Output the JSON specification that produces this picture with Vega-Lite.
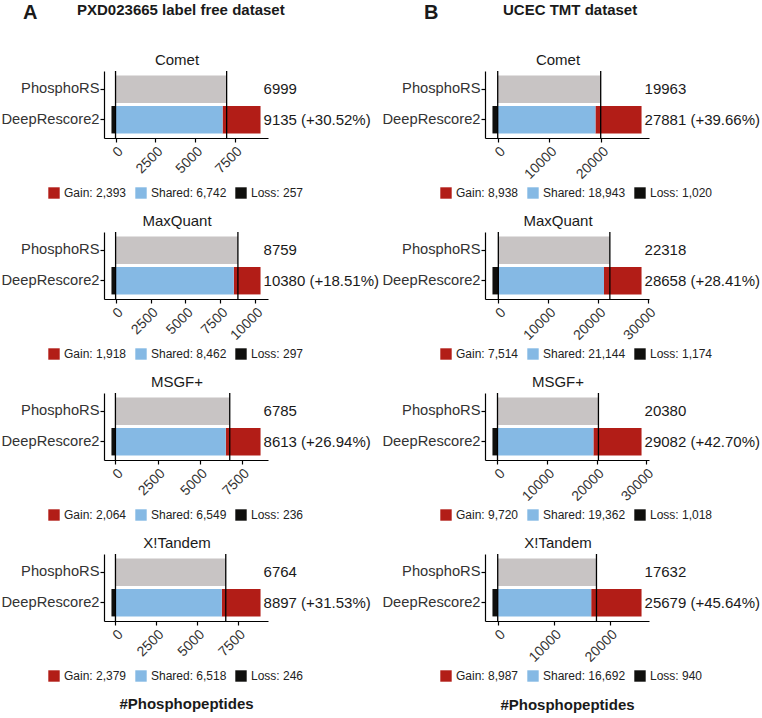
{
  "$schema": "https://vega.github.io/schema/vega-lite/v6.json",
  "background": "white",
  "padding": {"left": 1, "top": 3, "right": 0, "bottom": 0},
  "datasets": {
    "seg": [
      {"d": "A", "e": "Comet", "m": "PhosphoRS", "lab": "PhosphoRS", "v": 6999, "o": 0},
      {"d": "A", "e": "Comet", "m": "DeepRescore2", "lab": "Gain: 2,393", "v": 2393, "o": 1},
      {"d": "A", "e": "Comet", "m": "DeepRescore2", "lab": "Shared: 6,742", "v": 6742, "o": 2},
      {"d": "A", "e": "Comet", "m": "DeepRescore2", "lab": "Loss: 257", "v": -257, "o": 3},
      {"d": "A", "e": "MaxQuant", "m": "PhosphoRS", "lab": "PhosphoRS", "v": 8759, "o": 0},
      {"d": "A", "e": "MaxQuant", "m": "DeepRescore2", "lab": "Gain: 1,918", "v": 1918, "o": 1},
      {"d": "A", "e": "MaxQuant", "m": "DeepRescore2", "lab": "Shared: 8,462", "v": 8462, "o": 2},
      {"d": "A", "e": "MaxQuant", "m": "DeepRescore2", "lab": "Loss: 297", "v": -297, "o": 3},
      {"d": "A", "e": "MSGF+", "m": "PhosphoRS", "lab": "PhosphoRS", "v": 6785, "o": 0},
      {"d": "A", "e": "MSGF+", "m": "DeepRescore2", "lab": "Gain: 2,064", "v": 2064, "o": 1},
      {"d": "A", "e": "MSGF+", "m": "DeepRescore2", "lab": "Shared: 6,549", "v": 6549, "o": 2},
      {"d": "A", "e": "MSGF+", "m": "DeepRescore2", "lab": "Loss: 236", "v": -236, "o": 3},
      {"d": "A", "e": "X!Tandem", "m": "PhosphoRS", "lab": "PhosphoRS", "v": 6764, "o": 0},
      {"d": "A", "e": "X!Tandem", "m": "DeepRescore2", "lab": "Gain: 2,379", "v": 2379, "o": 1},
      {"d": "A", "e": "X!Tandem", "m": "DeepRescore2", "lab": "Shared: 6,518", "v": 6518, "o": 2},
      {"d": "A", "e": "X!Tandem", "m": "DeepRescore2", "lab": "Loss: 246", "v": -246, "o": 3},
      {"d": "B", "e": "Comet", "m": "PhosphoRS", "lab": "PhosphoRS", "v": 19963, "o": 0},
      {"d": "B", "e": "Comet", "m": "DeepRescore2", "lab": "Gain: 8,938", "v": 8938, "o": 1},
      {"d": "B", "e": "Comet", "m": "DeepRescore2", "lab": "Shared: 18,943", "v": 18943, "o": 2},
      {"d": "B", "e": "Comet", "m": "DeepRescore2", "lab": "Loss: 1,020", "v": -1020, "o": 3},
      {"d": "B", "e": "MaxQuant", "m": "PhosphoRS", "lab": "PhosphoRS", "v": 22318, "o": 0},
      {"d": "B", "e": "MaxQuant", "m": "DeepRescore2", "lab": "Gain: 7,514", "v": 7514, "o": 1},
      {"d": "B", "e": "MaxQuant", "m": "DeepRescore2", "lab": "Shared: 21,144", "v": 21144, "o": 2},
      {"d": "B", "e": "MaxQuant", "m": "DeepRescore2", "lab": "Loss: 1,174", "v": -1174, "o": 3},
      {"d": "B", "e": "MSGF+", "m": "PhosphoRS", "lab": "PhosphoRS", "v": 20380, "o": 0},
      {"d": "B", "e": "MSGF+", "m": "DeepRescore2", "lab": "Gain: 9,720", "v": 9720, "o": 1},
      {"d": "B", "e": "MSGF+", "m": "DeepRescore2", "lab": "Shared: 19,362", "v": 19362, "o": 2},
      {"d": "B", "e": "MSGF+", "m": "DeepRescore2", "lab": "Loss: 1,018", "v": -1018, "o": 3},
      {"d": "B", "e": "X!Tandem", "m": "PhosphoRS", "lab": "PhosphoRS", "v": 17632, "o": 0},
      {"d": "B", "e": "X!Tandem", "m": "DeepRescore2", "lab": "Gain: 8,987", "v": 8987, "o": 1},
      {"d": "B", "e": "X!Tandem", "m": "DeepRescore2", "lab": "Shared: 16,692", "v": 16692, "o": 2},
      {"d": "B", "e": "X!Tandem", "m": "DeepRescore2", "lab": "Loss: 940", "v": -940, "o": 3}
    ],
    "tot": [
      {"d": "A", "e": "Comet", "m": "PhosphoRS", "total": 6999, "txt": "6999"},
      {"d": "A", "e": "Comet", "m": "DeepRescore2", "total": 9135, "txt": "9135 (+30.52%)"},
      {"d": "A", "e": "MaxQuant", "m": "PhosphoRS", "total": 8759, "txt": "8759"},
      {"d": "A", "e": "MaxQuant", "m": "DeepRescore2", "total": 10380, "txt": "10380 (+18.51%)"},
      {"d": "A", "e": "MSGF+", "m": "PhosphoRS", "total": 6785, "txt": "6785"},
      {"d": "A", "e": "MSGF+", "m": "DeepRescore2", "total": 8613, "txt": "8613 (+26.94%)"},
      {"d": "A", "e": "X!Tandem", "m": "PhosphoRS", "total": 6764, "txt": "6764"},
      {"d": "A", "e": "X!Tandem", "m": "DeepRescore2", "total": 8897, "txt": "8897 (+31.53%)"},
      {"d": "B", "e": "Comet", "m": "PhosphoRS", "total": 19963, "txt": "19963"},
      {"d": "B", "e": "Comet", "m": "DeepRescore2", "total": 27881, "txt": "27881 (+39.66%)"},
      {"d": "B", "e": "MaxQuant", "m": "PhosphoRS", "total": 22318, "txt": "22318"},
      {"d": "B", "e": "MaxQuant", "m": "DeepRescore2", "total": 28658, "txt": "28658 (+28.41%)"},
      {"d": "B", "e": "MSGF+", "m": "PhosphoRS", "total": 20380, "txt": "20380"},
      {"d": "B", "e": "MSGF+", "m": "DeepRescore2", "total": 29082, "txt": "29082 (+42.70%)"},
      {"d": "B", "e": "X!Tandem", "m": "PhosphoRS", "total": 17632, "txt": "17632"},
      {"d": "B", "e": "X!Tandem", "m": "DeepRescore2", "total": 25679, "txt": "25679 (+45.64%)"}
    ]
  },
  "config": {
    "font": "Liberation Sans",
    "view": {"stroke": null},
    "range": {"category": ["#b21d17", "#85b9e4", "#0f0f0d"]},
    "title": {"fontSize": 15, "fontWeight": "normal", "color": "#1a1a1a", "offset": 2, "dx": -9},
    "axis": {"grid": false, "domainColor": "black", "domainWidth": 1.2, "tickColor": "black", "tickWidth": 1.2, "tickSize": 4, "labelColor": "#333333", "titleColor": "#1a1a1a"},
    "axisX": {"labelAngle": -45, "labelAlign": "right", "labelBaseline": "top", "labelFontSize": 14, "labelPadding": 2, "labelOverlap": false, "labelFlush": false, "labelBound": false, "format": "d", "titleFontSize": 15, "titleFontWeight": "bold"},
    "axisY": {"labelFontSize": 14.7, "labelPadding": 1},
    "legend": {"title": null, "direction": "horizontal", "orient": "none", "labelFontSize": 12, "labelColor": "#222222", "symbolType": "square", "symbolSize": 130, "symbolStrokeWidth": 0, "labelOffset": 4, "columnPadding": 8}
  },
  "resolve": {"scale": {"color": "independent", "x": "independent", "y": "independent"}, "legend": {"color": "independent"}},
  "spacing": 2,
  "hconcat": [
    {
      "title": {"text": "A", "anchor": "start", "fontSize": 20, "fontWeight": "bold", "offset": -20, "dx": 22},
      "resolve": {"scale": {"color": "independent", "x": "independent", "y": "independent"}, "legend": {"color": "independent"}},
      "vconcat": [
        {
          "title": {"text": "PXD023665 label free dataset", "anchor": "start", "fontSize": 15, "fontWeight": "bold", "offset": 35, "dx": 76},
          "resolve": {"scale": {"color": "independent", "x": "independent", "y": "independent"}, "legend": {"color": "independent"}},
          "spacing": 15,
          "vconcat": [
            {
              "width": 164, "height": 67, "title": {"text": "Comet"},
              "layer": [
                {"data": {"name": "seg"}, "transform": [{"filter": "datum.d=='A' && datum.e=='Comet' && datum.m=='PhosphoRS'"}], "mark": {"type": "bar", "color": "#c8c4c4"},
                 "encoding": {"x": {"field": "v", "type": "quantitative", "title": null, "scale": {"domain": [-727, 9605], "nice": false, "zero": false}, "axis": {"values": [0, 2500, 5000, 7500]}},
                              "y": {"field": "m", "type": "nominal", "title": null, "sort": ["PhosphoRS", "DeepRescore2"], "scale": {"paddingInner": 0.1, "paddingOuter": 0.15}}}},
                {"data": {"name": "seg"}, "transform": [{"filter": "datum.d=='A' && datum.e=='Comet' && datum.m=='DeepRescore2'"}], "mark": "bar",
                 "encoding": {"x": {"field": "v", "type": "quantitative", "title": null, "stack": "zero"},
                              "y": {"field": "m", "type": "nominal", "title": null, "sort": ["PhosphoRS", "DeepRescore2"]},
                              "color": {"field": "lab", "type": "nominal", "sort": {"field": "o", "op": "min"}, "legend": {"legendX": -56, "legendY": 116}},
                              "order": {"field": "o", "sort": "descending"}}},
                {"data": {"name": "tot"}, "transform": [{"filter": "datum.d=='A' && datum.e=='Comet' && datum.m=='PhosphoRS'"}], "mark": {"type": "rule", "color": "black", "strokeWidth": 1.3}, "encoding": {"x": {"datum": 0}}},
                {"data": {"name": "tot"}, "transform": [{"filter": "datum.d=='A' && datum.e=='Comet' && datum.m=='PhosphoRS'"}], "mark": {"type": "rule", "color": "black", "strokeWidth": 1.3}, "encoding": {"x": {"field": "total", "type": "quantitative", "title": null}}},
                {"data": {"name": "tot"}, "transform": [{"filter": "datum.d=='A' && datum.e=='Comet'"}, {"joinaggregate": [{"op": "max", "field": "total", "as": "mx"}]}], "mark": {"type": "text", "align": "left", "dx": 3, "fontSize": 15, "color": "#1a1a1a"},
                 "encoding": {"x": {"field": "mx", "type": "quantitative", "title": null}, "y": {"field": "m", "type": "nominal", "title": null, "sort": ["PhosphoRS", "DeepRescore2"]}, "text": {"field": "txt"}}}
              ]
            },
            {
              "width": 164, "height": 67, "title": {"text": "MaxQuant"},
              "layer": [
                {"data": {"name": "seg"}, "transform": [{"filter": "datum.d=='A' && datum.e=='MaxQuant' && datum.m=='PhosphoRS'"}], "mark": {"type": "bar", "color": "#c8c4c4"},
                 "encoding": {"x": {"field": "v", "type": "quantitative", "title": null, "scale": {"domain": [-831, 10914], "nice": false, "zero": false}, "axis": {"values": [0, 2500, 5000, 7500, 10000]}},
                              "y": {"field": "m", "type": "nominal", "title": null, "sort": ["PhosphoRS", "DeepRescore2"], "scale": {"paddingInner": 0.1, "paddingOuter": 0.15}}}},
                {"data": {"name": "seg"}, "transform": [{"filter": "datum.d=='A' && datum.e=='MaxQuant' && datum.m=='DeepRescore2'"}], "mark": "bar",
                 "encoding": {"x": {"field": "v", "type": "quantitative", "title": null, "stack": "zero"},
                              "y": {"field": "m", "type": "nominal", "title": null, "sort": ["PhosphoRS", "DeepRescore2"]},
                              "color": {"field": "lab", "type": "nominal", "sort": {"field": "o", "op": "min"}, "legend": {"legendX": -56, "legendY": 116}},
                              "order": {"field": "o", "sort": "descending"}}},
                {"data": {"name": "tot"}, "transform": [{"filter": "datum.d=='A' && datum.e=='MaxQuant' && datum.m=='PhosphoRS'"}], "mark": {"type": "rule", "color": "black", "strokeWidth": 1.3}, "encoding": {"x": {"datum": 0}}},
                {"data": {"name": "tot"}, "transform": [{"filter": "datum.d=='A' && datum.e=='MaxQuant' && datum.m=='PhosphoRS'"}], "mark": {"type": "rule", "color": "black", "strokeWidth": 1.3}, "encoding": {"x": {"field": "total", "type": "quantitative", "title": null}}},
                {"data": {"name": "tot"}, "transform": [{"filter": "datum.d=='A' && datum.e=='MaxQuant'"}, {"joinaggregate": [{"op": "max", "field": "total", "as": "mx"}]}], "mark": {"type": "text", "align": "left", "dx": 3, "fontSize": 15, "color": "#1a1a1a"},
                 "encoding": {"x": {"field": "mx", "type": "quantitative", "title": null}, "y": {"field": "m", "type": "nominal", "title": null, "sort": ["PhosphoRS", "DeepRescore2"]}, "text": {"field": "txt"}}}
              ]
            },
            {
              "width": 164, "height": 67, "title": {"text": "MSGF+"},
              "layer": [
                {"data": {"name": "seg"}, "transform": [{"filter": "datum.d=='A' && datum.e=='MSGF+' && datum.m=='PhosphoRS'"}], "mark": {"type": "bar", "color": "#c8c4c4"},
                 "encoding": {"x": {"field": "v", "type": "quantitative", "title": null, "scale": {"domain": [-678, 9055], "nice": false, "zero": false}, "axis": {"values": [0, 2500, 5000, 7500]}},
                              "y": {"field": "m", "type": "nominal", "title": null, "sort": ["PhosphoRS", "DeepRescore2"], "scale": {"paddingInner": 0.1, "paddingOuter": 0.15}}}},
                {"data": {"name": "seg"}, "transform": [{"filter": "datum.d=='A' && datum.e=='MSGF+' && datum.m=='DeepRescore2'"}], "mark": "bar",
                 "encoding": {"x": {"field": "v", "type": "quantitative", "title": null, "stack": "zero"},
                              "y": {"field": "m", "type": "nominal", "title": null, "sort": ["PhosphoRS", "DeepRescore2"]},
                              "color": {"field": "lab", "type": "nominal", "sort": {"field": "o", "op": "min"}, "legend": {"legendX": -56, "legendY": 116}},
                              "order": {"field": "o", "sort": "descending"}}},
                {"data": {"name": "tot"}, "transform": [{"filter": "datum.d=='A' && datum.e=='MSGF+' && datum.m=='PhosphoRS'"}], "mark": {"type": "rule", "color": "black", "strokeWidth": 1.3}, "encoding": {"x": {"datum": 0}}},
                {"data": {"name": "tot"}, "transform": [{"filter": "datum.d=='A' && datum.e=='MSGF+' && datum.m=='PhosphoRS'"}], "mark": {"type": "rule", "color": "black", "strokeWidth": 1.3}, "encoding": {"x": {"field": "total", "type": "quantitative", "title": null}}},
                {"data": {"name": "tot"}, "transform": [{"filter": "datum.d=='A' && datum.e=='MSGF+'"}, {"joinaggregate": [{"op": "max", "field": "total", "as": "mx"}]}], "mark": {"type": "text", "align": "left", "dx": 3, "fontSize": 15, "color": "#1a1a1a"},
                 "encoding": {"x": {"field": "mx", "type": "quantitative", "title": null}, "y": {"field": "m", "type": "nominal", "title": null, "sort": ["PhosphoRS", "DeepRescore2"]}, "text": {"field": "txt"}}}
              ]
            },
            {
              "width": 164, "height": 67, "title": {"text": "X!Tandem"},
              "layer": [
                {"data": {"name": "seg"}, "transform": [{"filter": "datum.d=='A' && datum.e=='X!Tandem' && datum.m=='PhosphoRS'"}], "mark": {"type": "bar", "color": "#c8c4c4"},
                 "encoding": {"x": {"field": "v", "type": "quantitative", "scale": {"domain": [-703, 9354], "nice": false, "zero": false}, "axis": {"values": [0, 2500, 5000, 7500], "title": "#Phosphopeptides", "titlePadding": 38}},
                              "y": {"field": "m", "type": "nominal", "title": null, "sort": ["PhosphoRS", "DeepRescore2"], "scale": {"paddingInner": 0.1, "paddingOuter": 0.15}}}},
                {"data": {"name": "seg"}, "transform": [{"filter": "datum.d=='A' && datum.e=='X!Tandem' && datum.m=='DeepRescore2'"}], "mark": "bar",
                 "encoding": {"x": {"field": "v", "type": "quantitative", "stack": "zero"},
                              "y": {"field": "m", "type": "nominal", "title": null, "sort": ["PhosphoRS", "DeepRescore2"]},
                              "color": {"field": "lab", "type": "nominal", "sort": {"field": "o", "op": "min"}, "legend": {"legendX": -56, "legendY": 116}},
                              "order": {"field": "o", "sort": "descending"}}},
                {"data": {"name": "tot"}, "transform": [{"filter": "datum.d=='A' && datum.e=='X!Tandem' && datum.m=='PhosphoRS'"}], "mark": {"type": "rule", "color": "black", "strokeWidth": 1.3}, "encoding": {"x": {"datum": 0}}},
                {"data": {"name": "tot"}, "transform": [{"filter": "datum.d=='A' && datum.e=='X!Tandem' && datum.m=='PhosphoRS'"}], "mark": {"type": "rule", "color": "black", "strokeWidth": 1.3}, "encoding": {"x": {"field": "total", "type": "quantitative"}}},
                {"data": {"name": "tot"}, "transform": [{"filter": "datum.d=='A' && datum.e=='X!Tandem'"}, {"joinaggregate": [{"op": "max", "field": "total", "as": "mx"}]}], "mark": {"type": "text", "align": "left", "dx": 3, "fontSize": 15, "color": "#1a1a1a"},
                 "encoding": {"x": {"field": "mx", "type": "quantitative"}, "y": {"field": "m", "type": "nominal", "title": null, "sort": ["PhosphoRS", "DeepRescore2"]}, "text": {"field": "txt"}}}
              ]
            }
          ]
        }
      ]
    },
    {
      "title": {"text": "B", "anchor": "start", "fontSize": 20, "fontWeight": "bold", "offset": -20, "dx": 42},
      "resolve": {"scale": {"color": "independent", "x": "independent", "y": "independent"}, "legend": {"color": "independent"}},
      "vconcat": [
        {
          "title": {"text": "UCEC TMT dataset", "anchor": "start", "fontSize": 15, "fontWeight": "bold", "offset": 35, "dx": 121},
          "resolve": {"scale": {"color": "independent", "x": "independent", "y": "independent"}, "legend": {"color": "independent"}},
          "spacing": 15,
          "vconcat": [
            {
              "width": 164, "height": 67, "title": {"text": "Comet"},
              "layer": [
                {"data": {"name": "seg"}, "transform": [{"filter": "datum.d=='B' && datum.e=='Comet' && datum.m=='PhosphoRS'"}], "mark": {"type": "bar", "color": "#c8c4c4"},
                 "encoding": {"x": {"field": "v", "type": "quantitative", "title": null, "scale": {"domain": [-2465, 29326], "nice": false, "zero": false}, "axis": {"values": [0, 10000, 20000]}},
                              "y": {"field": "m", "type": "nominal", "title": null, "sort": ["PhosphoRS", "DeepRescore2"], "scale": {"paddingInner": 0.1, "paddingOuter": 0.15}}}},
                {"data": {"name": "seg"}, "transform": [{"filter": "datum.d=='B' && datum.e=='Comet' && datum.m=='DeepRescore2'"}], "mark": "bar",
                 "encoding": {"x": {"field": "v", "type": "quantitative", "title": null, "stack": "zero"},
                              "y": {"field": "m", "type": "nominal", "title": null, "sort": ["PhosphoRS", "DeepRescore2"]},
                              "color": {"field": "lab", "type": "nominal", "sort": {"field": "o", "op": "min"}, "legend": {"legendX": -45, "legendY": 116}},
                              "order": {"field": "o", "sort": "descending"}}},
                {"data": {"name": "tot"}, "transform": [{"filter": "datum.d=='B' && datum.e=='Comet' && datum.m=='PhosphoRS'"}], "mark": {"type": "rule", "color": "black", "strokeWidth": 1.3}, "encoding": {"x": {"datum": 0}}},
                {"data": {"name": "tot"}, "transform": [{"filter": "datum.d=='B' && datum.e=='Comet' && datum.m=='PhosphoRS'"}], "mark": {"type": "rule", "color": "black", "strokeWidth": 1.3}, "encoding": {"x": {"field": "total", "type": "quantitative", "title": null}}},
                {"data": {"name": "tot"}, "transform": [{"filter": "datum.d=='B' && datum.e=='Comet'"}, {"joinaggregate": [{"op": "max", "field": "total", "as": "mx"}]}], "mark": {"type": "text", "align": "left", "dx": 3, "fontSize": 15, "color": "#1a1a1a"},
                 "encoding": {"x": {"field": "mx", "type": "quantitative", "title": null}, "y": {"field": "m", "type": "nominal", "title": null, "sort": ["PhosphoRS", "DeepRescore2"]}, "text": {"field": "txt"}}}
              ]
            },
            {
              "width": 164, "height": 67, "title": {"text": "MaxQuant"},
              "layer": [
                {"data": {"name": "seg"}, "transform": [{"filter": "datum.d=='B' && datum.e=='MaxQuant' && datum.m=='PhosphoRS'"}], "mark": {"type": "bar", "color": "#c8c4c4"},
                 "encoding": {"x": {"field": "v", "type": "quantitative", "title": null, "scale": {"domain": [-2666, 30150], "nice": false, "zero": false}, "axis": {"values": [0, 10000, 20000, 30000]}},
                              "y": {"field": "m", "type": "nominal", "title": null, "sort": ["PhosphoRS", "DeepRescore2"], "scale": {"paddingInner": 0.1, "paddingOuter": 0.15}}}},
                {"data": {"name": "seg"}, "transform": [{"filter": "datum.d=='B' && datum.e=='MaxQuant' && datum.m=='DeepRescore2'"}], "mark": "bar",
                 "encoding": {"x": {"field": "v", "type": "quantitative", "title": null, "stack": "zero"},
                              "y": {"field": "m", "type": "nominal", "title": null, "sort": ["PhosphoRS", "DeepRescore2"]},
                              "color": {"field": "lab", "type": "nominal", "sort": {"field": "o", "op": "min"}, "legend": {"legendX": -45, "legendY": 116}},
                              "order": {"field": "o", "sort": "descending"}}},
                {"data": {"name": "tot"}, "transform": [{"filter": "datum.d=='B' && datum.e=='MaxQuant' && datum.m=='PhosphoRS'"}], "mark": {"type": "rule", "color": "black", "strokeWidth": 1.3}, "encoding": {"x": {"datum": 0}}},
                {"data": {"name": "tot"}, "transform": [{"filter": "datum.d=='B' && datum.e=='MaxQuant' && datum.m=='PhosphoRS'"}], "mark": {"type": "rule", "color": "black", "strokeWidth": 1.3}, "encoding": {"x": {"field": "total", "type": "quantitative", "title": null}}},
                {"data": {"name": "tot"}, "transform": [{"filter": "datum.d=='B' && datum.e=='MaxQuant'"}, {"joinaggregate": [{"op": "max", "field": "total", "as": "mx"}]}], "mark": {"type": "text", "align": "left", "dx": 3, "fontSize": 15, "color": "#1a1a1a"},
                 "encoding": {"x": {"field": "mx", "type": "quantitative", "title": null}, "y": {"field": "m", "type": "nominal", "title": null, "sort": ["PhosphoRS", "DeepRescore2"]}, "text": {"field": "txt"}}}
              ]
            },
            {
              "width": 164, "height": 67, "title": {"text": "MSGF+"},
              "layer": [
                {"data": {"name": "seg"}, "transform": [{"filter": "datum.d=='B' && datum.e=='MSGF+' && datum.m=='PhosphoRS'"}], "mark": {"type": "bar", "color": "#c8c4c4"},
                 "encoding": {"x": {"field": "v", "type": "quantitative", "title": null, "scale": {"domain": [-2523, 30587], "nice": false, "zero": false}, "axis": {"values": [0, 10000, 20000, 30000]}},
                              "y": {"field": "m", "type": "nominal", "title": null, "sort": ["PhosphoRS", "DeepRescore2"], "scale": {"paddingInner": 0.1, "paddingOuter": 0.15}}}},
                {"data": {"name": "seg"}, "transform": [{"filter": "datum.d=='B' && datum.e=='MSGF+' && datum.m=='DeepRescore2'"}], "mark": "bar",
                 "encoding": {"x": {"field": "v", "type": "quantitative", "title": null, "stack": "zero"},
                              "y": {"field": "m", "type": "nominal", "title": null, "sort": ["PhosphoRS", "DeepRescore2"]},
                              "color": {"field": "lab", "type": "nominal", "sort": {"field": "o", "op": "min"}, "legend": {"legendX": -45, "legendY": 116}},
                              "order": {"field": "o", "sort": "descending"}}},
                {"data": {"name": "tot"}, "transform": [{"filter": "datum.d=='B' && datum.e=='MSGF+' && datum.m=='PhosphoRS'"}], "mark": {"type": "rule", "color": "black", "strokeWidth": 1.3}, "encoding": {"x": {"datum": 0}}},
                {"data": {"name": "tot"}, "transform": [{"filter": "datum.d=='B' && datum.e=='MSGF+' && datum.m=='PhosphoRS'"}], "mark": {"type": "rule", "color": "black", "strokeWidth": 1.3}, "encoding": {"x": {"field": "total", "type": "quantitative", "title": null}}},
                {"data": {"name": "tot"}, "transform": [{"filter": "datum.d=='B' && datum.e=='MSGF+'"}, {"joinaggregate": [{"op": "max", "field": "total", "as": "mx"}]}], "mark": {"type": "text", "align": "left", "dx": 3, "fontSize": 15, "color": "#1a1a1a"},
                 "encoding": {"x": {"field": "mx", "type": "quantitative", "title": null}, "y": {"field": "m", "type": "nominal", "title": null, "sort": ["PhosphoRS", "DeepRescore2"]}, "text": {"field": "txt"}}}
              ]
            },
            {
              "width": 164, "height": 67, "title": {"text": "X!Tandem"},
              "layer": [
                {"data": {"name": "seg"}, "transform": [{"filter": "datum.d=='B' && datum.e=='X!Tandem' && datum.m=='PhosphoRS'"}], "mark": {"type": "bar", "color": "#c8c4c4"},
                 "encoding": {"x": {"field": "v", "type": "quantitative", "scale": {"domain": [-2271, 27010], "nice": false, "zero": false}, "axis": {"values": [0, 10000, 20000], "title": "#Phosphopeptides", "titlePadding": 33}},
                              "y": {"field": "m", "type": "nominal", "title": null, "sort": ["PhosphoRS", "DeepRescore2"], "scale": {"paddingInner": 0.1, "paddingOuter": 0.15}}}},
                {"data": {"name": "seg"}, "transform": [{"filter": "datum.d=='B' && datum.e=='X!Tandem' && datum.m=='DeepRescore2'"}], "mark": "bar",
                 "encoding": {"x": {"field": "v", "type": "quantitative", "stack": "zero"},
                              "y": {"field": "m", "type": "nominal", "title": null, "sort": ["PhosphoRS", "DeepRescore2"]},
                              "color": {"field": "lab", "type": "nominal", "sort": {"field": "o", "op": "min"}, "legend": {"legendX": -45, "legendY": 116}},
                              "order": {"field": "o", "sort": "descending"}}},
                {"data": {"name": "tot"}, "transform": [{"filter": "datum.d=='B' && datum.e=='X!Tandem' && datum.m=='PhosphoRS'"}], "mark": {"type": "rule", "color": "black", "strokeWidth": 1.3}, "encoding": {"x": {"datum": 0}}},
                {"data": {"name": "tot"}, "transform": [{"filter": "datum.d=='B' && datum.e=='X!Tandem' && datum.m=='PhosphoRS'"}], "mark": {"type": "rule", "color": "black", "strokeWidth": 1.3}, "encoding": {"x": {"field": "total", "type": "quantitative"}}},
                {"data": {"name": "tot"}, "transform": [{"filter": "datum.d=='B' && datum.e=='X!Tandem'"}, {"joinaggregate": [{"op": "max", "field": "total", "as": "mx"}]}], "mark": {"type": "text", "align": "left", "dx": 3, "fontSize": 15, "color": "#1a1a1a"},
                 "encoding": {"x": {"field": "mx", "type": "quantitative"}, "y": {"field": "m", "type": "nominal", "title": null, "sort": ["PhosphoRS", "DeepRescore2"]}, "text": {"field": "txt"}}}
              ]
            }
          ]
        }
      ]
    }
  ]
}
